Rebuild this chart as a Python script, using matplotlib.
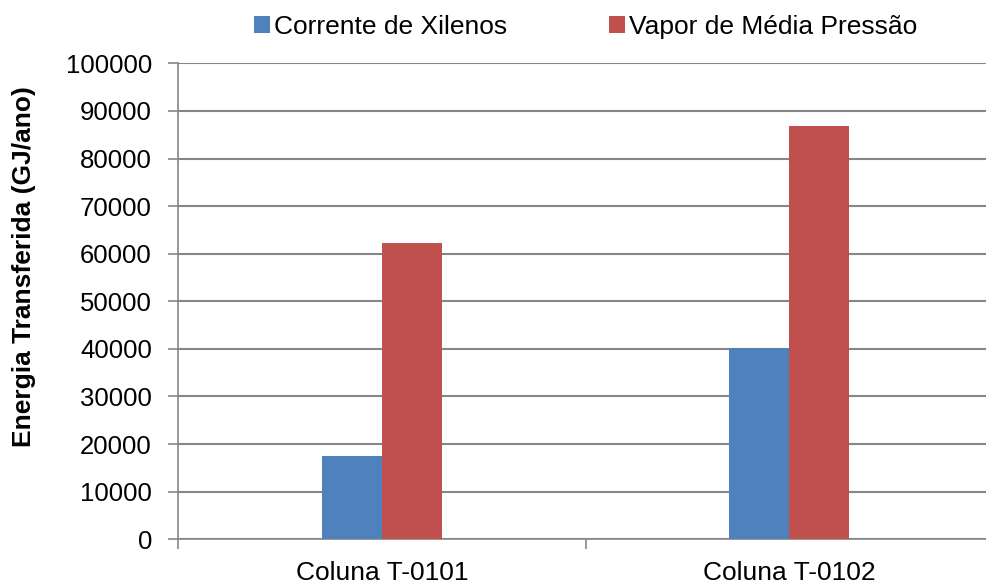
import matplotlib
matplotlib.use('Agg')
import matplotlib.pyplot as plt
import numpy as np

plt.rcParams['font.family'] = ['Liberation Sans', 'DejaVu Sans']

categories = ['Coluna T-0101', 'Coluna T-0102']
series_names = ['Corrente de Xilenos', 'Vapor de Média Pressão']
xilenos = [17600, 40200]
vapor = [62300, 86800]
y_ticks = list(range(0, 100001, 10000))

BLUE = '#4F81BD'
RED = '#C0504D'
GRID = '#868686'

fig = plt.figure(figsize=(9.86, 5.83), dpi=100)
ax = fig.add_axes([0.1808, 0.0750, 0.8263, 0.8164])

x = np.arange(len(categories))
w = 0.1473
ax.bar(x - w / 2, xilenos, w, color=BLUE, label=series_names[0], zorder=3)
ax.bar(x + w / 2, vapor, w, color=RED, label=series_names[1], zorder=3)

ax.set_xlim(-0.5, len(categories) - 0.5)
ax.set_ylim(0, 100000)
ax.set_yticks(y_ticks)
ax.set_yticklabels([str(v) for v in y_ticks])
ax.set_xticks(x)
ax.set_xticklabels(categories)
ax.set_xticks(np.arange(-0.5, len(categories)), minor=True)

ax.yaxis.grid(True, color=GRID, linewidth=1.5, zorder=0)
ax.set_axisbelow(True)
for side in ['top', 'right']:
    ax.spines[side].set_visible(False)
for side in ['left', 'bottom']:
    ax.spines[side].set_color(GRID)
    ax.spines[side].set_linewidth(1.2)

ax.tick_params(axis='y', length=7, width=1.2, color=GRID, labelsize=18.5, pad=12)
ax.tick_params(axis='x', which='major', length=0, labelsize=19, pad=15.5)
ax.tick_params(axis='x', which='minor', length=7, width=1.2, color=GRID)

ax.set_ylabel('Energia Transferida (GJ/ano)', fontsize=19, fontweight='bold')
ax.yaxis.set_label_coords(-0.175, 0.574)

fig.legend(loc='center', bbox_to_anchor=(0.594, 0.954), ncol=2, frameon=False,
           fontsize=19, handlelength=0.6, handleheight=0.6, handletextpad=0.15,
           columnspacing=3.85)

fig.savefig('out.png', dpi=100)
